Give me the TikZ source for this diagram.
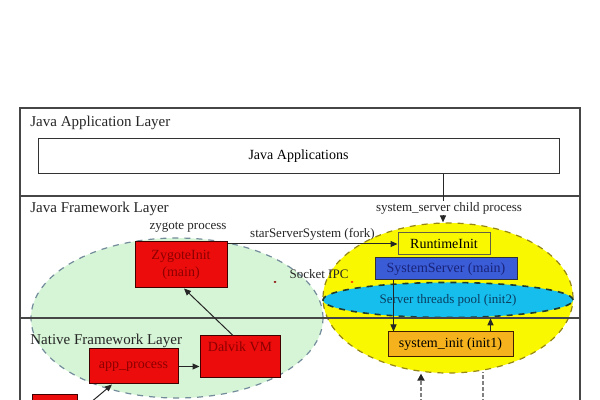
\documentclass[tikz,border=0pt]{standalone}
\usepackage{fontspec}
\setmainfont{Liberation Serif}
\usetikzlibrary{shapes.geometric,arrows.meta,calc}
\definecolor{redfill}{RGB}{236,12,12}
\definecolor{redtxt}{RGB}{140,0,0}
\definecolor{greenfill}{RGB}{214,245,214}
\definecolor{greenedge}{RGB}{115,140,155}
\definecolor{yellowfill}{RGB}{250,248,0}
\definecolor{yellowedge}{RGB}{150,135,20}
\definecolor{cyanfill}{RGB}{22,190,238}
\definecolor{cyanedge}{RGB}{30,60,50}
\definecolor{bluefill}{RGB}{58,92,215}
\definecolor{bluetxt}{RGB}{25,35,120}
\definecolor{orangefill}{RGB}{245,178,28}
\definecolor{linegray}{RGB}{70,70,70}
\tikzset{
  lyr/.style={font=\fontsize{7.5}{9}\selectfont, anchor=west, inner sep=0pt, text=black!85},
  lbl/.style={font=\fontsize{6.5}{8}\selectfont, inner sep=0.5pt, text=black!85},
  redbox/.style={draw=black!75!red, fill=redfill, line width=0.5pt, inner sep=0pt,
     font=\fontsize{7}{8.5}\selectfont, text=redtxt, align=center},
  cellbox/.style={draw=black!80, line width=0.5pt, inner sep=0pt, font=\fontsize{7}{8.5}\selectfont},
  ell/.style={ellipse, dashed, line width=0.6pt, inner sep=0pt},
  arr/.style={-{Triangle[length=3.5pt,width=3pt]}, line width=0.5pt, draw=black!85},
  dsh/.style={dash pattern=on 2pt off 1pt, line width=0.9pt, draw=black!50},
}
\begin{document}
\begin{tikzpicture}[x=0.5pt,y=-0.5pt]
\useasboundingbox (0,0) rectangle (600,400);
\clip (0,0) rectangle (600,400);
\fill[white] (0,0) rectangle (600,400);

% ellipses
\node[ell, draw=greenedge, fill=greenfill, minimum width=146pt, minimum height=80pt] (ge) at (177,318) {};
\node[ell, draw=yellowedge, fill=yellowfill, minimum width=125pt, minimum height=75pt] (ys) at (448,298) {};
\node[ell, draw=cyanedge, fill=cyanfill, line width=0.8pt, minimum width=125pt, minimum height=17.5pt,
      font=\fontsize{6.5}{8}\selectfont, text=bluetxt!70!cyan!60!black] (cy) at (448,300) {Server threads pool (init2)};

% frame and layer lines
\draw[linegray, line width=0.7pt] (20,402) -- (20,108) -- (580,108) -- (580,402);
\draw[linegray, line width=0.6pt] (20,196) -- (580,196);
\draw[linegray, line width=0.6pt] (20,318) -- (580,318);

% layer titles
\node[lyr] (l1) at (30,123) {Java Application Layer};
\node[lyr] (l2) at (30,209) {Java Framework Layer};
\node[lyr] (l3) at (30,341) {Native Framework Layer};

% java applications
\node[cellbox, fill=white, minimum width=260.5pt, minimum height=17.5pt] (japp) at (298.5,156.5) {Java Applications};

% labels
\node[lbl] (zp) at (188,227) {zygote process};
\node[lbl] (ssl) at (449,208) {system\_server child process};
\node[lbl] (sipc) at (319,274) {Socket IPC};

% red boxes
\node[redbox, minimum width=46pt, minimum height=23pt] (zi) at (181,265) {ZygoteInit\\(main)};
\node[redbox, minimum width=40pt, minimum height=21pt] (dvm) at (240,357) {};
\node[font=\fontsize{7}{8.5}\selectfont, text=redtxt, inner sep=0pt, anchor=north] (dvmt) at ([yshift=-3pt]dvm.north) {Dalvik VM};
\node[redbox, minimum width=44.5pt, minimum height=17.5pt] (ap) at (133.5,366.5) {app\_process};
\node[redbox, minimum width=22.5pt, minimum height=15pt] (sb) at (54.5,410) {};

% system server boxes
\node[cellbox, fill=yellowfill, draw=black!70!yellow, minimum width=46pt, minimum height=11pt] (ri) at (444,244) {RuntimeInit};
\node[cellbox, fill=bluefill, text=bluetxt, minimum width=71pt, minimum height=11pt] (ss) at (446,269) {SystemServer (main)};
\node[cellbox, fill=orangefill, draw=black!75!orange, minimum width=62.5pt, minimum height=12.5pt] (si) at (450.5,344.5) {system\_init (init1)};

% small marks
\fill[redtxt] (275,282) ellipse (1.5 and 1);
\fill[red!70!orange] (352,282) ellipse (1.5 and 1);

% connectors
\coordinate (jtop) at (443,174);
\draw[line width=0.5pt, draw=black!85] (jtop) -- (jtop |- ssl.north);
\draw[arr] (jtop |- ssl.south) -- (jtop |- ys.north);
\draw[arr] (ri.west -| zi.east) -- node[lbl, above=1pt] (fk) {starServerSystem (fork)} (ri.west);
\draw[arr] ([xshift=-3.5pt]dvm.north) -- ([xshift=1.5pt]zi.south);
\draw[arr] (ap.east) -- (dvm.west |- ap.east);
\coordinate (blstart) at (90,403);
\draw[arr] (blstart) -- ([xshift=-10.75pt]ap.south);
\draw[arr] ([xshift=9.5pt]ss.south west) -- ([xshift=9.5pt]ss.south west |- si.north);
\draw[arr] ([xshift=-11.5pt]si.north east) -- ([xshift=-11.5pt]si.north east |- cy.south);
\coordinate (d1) at (421,403);
\coordinate (d2) at (483,403);
\draw[dsh, -{Triangle[length=3.5pt,width=3.5pt,color=black!85,sep=0pt]}] (d1) -- (d1 |- ys.south);
\draw[dsh] (d2) -- ([yshift=1pt]d2 |- ys.south);
\end{tikzpicture}
\end{document}
